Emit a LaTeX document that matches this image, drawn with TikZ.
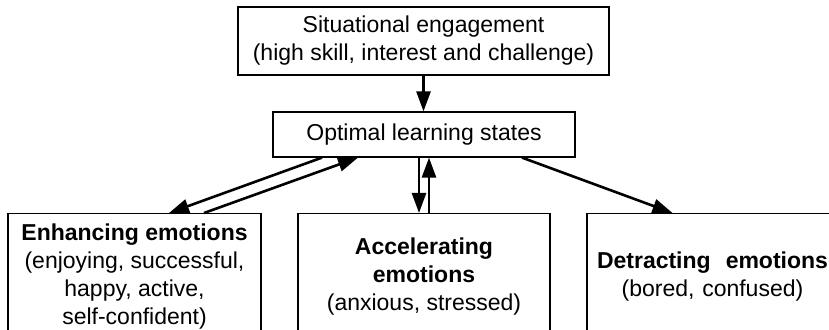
\documentclass[tikz,border=0pt]{standalone}
\usepackage{fontspec}
\setmainfont{Liberation Sans}
\usetikzlibrary{arrows.meta}

\begin{document}
\begin{tikzpicture}[x=.5pt,y=-.5pt,
  box/.style={draw,line width=.6pt,align=center,inner sep=0pt,font=\fontsize{11.5}{14}\selectfont},
  flow/.style={line width=1.3pt,-{Triangle[length=10pt,width=7pt]}}]
\path[use as bounding box] (0,0) rectangle (829,330);
\node[box,minimum width=185.5pt,minimum height=34pt] (engage) at (423.5,41) {Situational engagement\\(high skill, interest and challenge)};
\node[box,minimum width=151pt,minimum height=22.5pt] (learn) at (424,134.5) {Optimal learning states};
% the three emotion boxes run off the lower edge
\node[box,anchor=north,minimum width=126.5pt,minimum height=63pt] (enhance) at (134.5,213) {\textbf{Enhancing emotions}\\(enjoying, successful,\\happy, active,\\self-confident)};
\node[box,anchor=north,minimum width=126pt,minimum height=63pt] (accel) at (424,213) {\textbf{Accelerating}\\\textbf{emotions}\\(anxious, stressed)};
\node[box,anchor=north,minimum width=125.5pt,minimum height=63pt,text width=115.5pt] (detract) at (712.5,213) {\textbf{Detracting}\hfill\textbf{emotions}\\(bored, confused)};
\draw[flow] (engage.south) -- (engage.south |- learn.north);
\draw[flow] ([xshift=-2.5pt]learn.south) -- ([xshift=-2.5pt]accel.north);
\draw[flow] ([xshift=2.5pt]accel.north) -- ([xshift=2.5pt]learn.south);
\draw[flow] ([xshift=-51pt]learn.south) -- ([xshift=17.25pt]enhance.north);
\draw[flow] ([xshift=34.75pt]enhance.north) -- ([xshift=-33pt]learn.south);
\draw[flow] ([xshift=49pt]learn.south) -- ([xshift=-20pt]detract.north);
\end{tikzpicture}
\end{document}
